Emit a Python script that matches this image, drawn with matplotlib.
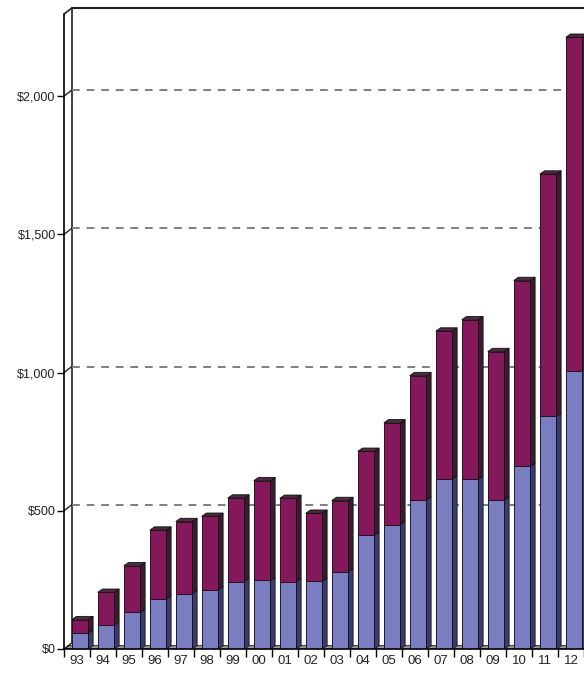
import matplotlib
matplotlib.use("Agg")
import matplotlib.pyplot as plt
from matplotlib.patches import Polygon
import numpy as np

years = ['93', '94', '95', '96', '97', '98', '99', '00', '01', '02',
         '03', '04', '05', '06', '07', '08', '09', '10', '11', '12']
lower = [58, 87, 133, 181, 200, 215, 244, 248, 244, 245,
         280, 412, 450, 539, 615, 615, 539, 661, 842, 1007]
upper = [48, 118, 168, 249, 261, 265, 302, 361, 301, 246,
         257, 303, 368, 450, 535, 576, 537, 672, 876, 1206]
y_ticks = [0, 500, 1000, 1500, 2000]
y_labels = ['$0', '$500', '$1,000', '$1,500', '$2,000']

blue = '#7a7dbf'
blue_side = '#3b3c6e'
maroon = '#83195b'
maroon_side = '#3c1a30'
maroon_top = '#4e2a40'

# 3d depth of the walls and of the bars, in data units
wall_dx, wall_dy = 0.3, 22
bar_dx, bar_dy = 0.18, 12
ymax = 2319

plt.rcParams['font.family'] = ['Liberation Sans', 'DejaVu Sans']

fig = plt.figure(figsize=(5.84, 6.75), dpi=100)
ax = fig.add_axes([64 / 584, 26 / 675, 1 - 64 / 584, (649 - 8) / 675])
ax.set_xlim(-0.5, 19.5)
ax.set_ylim(0, ymax)

x = np.arange(len(years))
lo = np.array(lower)
tot = lo + np.array(upper)

# floor
floor = Polygon([(-0.5, 0), (-0.5 + bar_dx, bar_dy), (19.5 + bar_dx, bar_dy), (19.5, 0)],
                closed=True, facecolor='#9c9c9c', edgecolor='#333333', lw=0.8, zorder=1)
ax.add_patch(floor)

# back wall
wx = -0.5 + wall_dx
ax.plot([wx, wx], [wall_dy, ymax], color='#222222', lw=1.2, zorder=2)
ax.plot([wx, 19.5], [ymax, ymax], color='#222222', lw=1.5, zorder=2, clip_on=False)
ax.plot([-0.5, wx], [ymax - wall_dy, ymax], color='#222222', lw=1.2, zorder=2)
for v in y_ticks:
    ax.plot([-0.5, wx], [v, v + wall_dy], color='#222222', lw=1.0, zorder=2)
    if v > 0:
        ax.plot([wx, 19.5], [v + wall_dy, v + wall_dy], color='#7f7f7f', lw=1.4,
                dashes=(4, 3.5), zorder=2)

# bars: front faces
left = x - 0.2
width = 0.64
ax.bar(left, lo, width=width, align='edge', color=blue, edgecolor='#1a1a2a', lw=0.7, zorder=3)
ax.bar(left, upper, bottom=lo, width=width, align='edge', color=maroon,
       edgecolor='#2a1020', lw=0.7, zorder=3)

# bars: side and top faces
for i in range(len(years)):
    r = left[i] + width
    for b, t, c in [(0, lo[i], blue_side), (lo[i], tot[i], maroon_side)]:
        side = Polygon([(r, b), (r + bar_dx, b + bar_dy), (r + bar_dx, t + bar_dy), (r, t)],
                       closed=True, facecolor=c, edgecolor='#111111', lw=0.6, zorder=3)
        ax.add_patch(side)
    top = Polygon([(left[i], tot[i]), (left[i] + bar_dx, tot[i] + bar_dy),
                   (r + bar_dx, tot[i] + bar_dy), (r, tot[i])],
                  closed=True, facecolor=maroon_top, edgecolor='#111111', lw=0.6, zorder=3)
    ax.add_patch(top)

# axes
for s in ['top', 'right']:
    ax.spines[s].set_visible(False)
ax.spines['left'].set_bounds(0, ymax - wall_dy)
ax.spines['left'].set_linewidth(1.2)
ax.spines['bottom'].set_linewidth(1.2)
ax.spines['left'].set_zorder(5)
ax.spines['bottom'].set_zorder(5)

ax.set_yticks(y_ticks)
ax.set_yticklabels(y_labels, fontsize=9, color='#222222')
ax.tick_params(axis='y', direction='out', length=5, width=1, pad=1)

ax.set_xticks(np.arange(-0.5, 20, 1.0))
ax.set_xticklabels([])
ax.tick_params(axis='x', which='major', direction='out', length=6, width=1)
ax.set_xticks(x, minor=True)
ax.set_xticklabels(years, minor=True, fontsize=9.5, color='#222222')
ax.tick_params(axis='x', which='minor', length=0, pad=4)

fig.savefig('out.png', dpi=100)
